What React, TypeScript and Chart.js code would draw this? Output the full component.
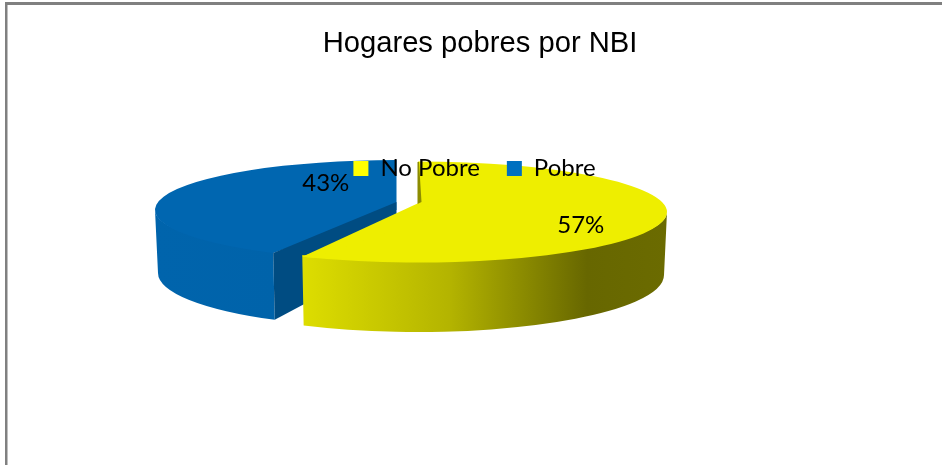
import React, { useEffect, useRef } from "react";
import { Chart, registerables } from "chart.js";

Chart.register(...registerables);

const categories = ["No Pobre", "Pobre"];
const shares = [57, 43];
const titleText = "Hogares pobres por NBI";
const topColors = ["#EEEE00", "#0066B0"];
const legendColors = ["#FFFF00", "#0070C0"];

// Layout of the pseudo-3D projection (Chart.js has no 3D pies): each slice is an
// arc element re-projected onto an ellipse, with a wall drawn below it.
const slices = [
  {
    top: { cx: 418, cy: 212, a: 249, b: 50.5 },
    bottom: { cx: 418, cy: 275, a: 246, b: 57 },
    startDelta: 0,
    endDelta: 2.5,
    labelRadial: 0.67,
    labelShiftY: 6,
    wallStops: [
      [0, "#DDDD00"],
      [0.4, "#B4B400"],
      [0.78, "#676700"],
      [1, "#6B6B00"],
    ],
    wallX: [304, 667],
  },
  {
    top: { cx: 396.5, cy: 210, a: 241.5, b: 50 },
    bottom: { cx: 396.5, cy: 273, a: 238.5, b: 54.5 },
    startDelta: 5.5,
    endDelta: 0,
    labelRadial: 0.3,
    labelShiftY: -23,
    wallStops: [
      [0, "#0064AC"],
      [1, "#0063AA"],
    ],
    wallX: [155, 276],
  },
];

const DEG = Math.PI / 180;

const pointOn = (e: any, t: number) => ({
  x: e.cx + e.a * Math.cos(t),
  y: e.cy + e.b * Math.sin(t),
});

const pie3d = {
  id: "pie3d",
  beforeDraw(chart: any) {
    const ctx = chart.ctx;
    const arcs = chart.getDatasetMeta(0).data;

    // frame
    ctx.fillStyle = "#808080";
    ctx.fillRect(5, 2, 937, 3);
    ctx.fillRect(5, 2, 2.5, 463);

    const drawSlice = (i: number) => {
      const el = arcs[i];
      const s = slices[i];
      const start = el.startAngle + s.startDelta * DEG;
      const end = el.endAngle + s.endDelta * DEG;

      // outer wall, only the part facing the viewer
      const w0 = Math.max(start, 0);
      const w1 = Math.min(end, Math.PI);
      const grad = ctx.createLinearGradient(s.wallX[0], 0, s.wallX[1], 0);
      s.wallStops.forEach(([o, c]: any) => grad.addColorStop(o, c));
      ctx.beginPath();
      ctx.ellipse(s.top.cx, s.top.cy, s.top.a, s.top.b - 2, 0, w0, w1);
      ctx.ellipse(s.bottom.cx, s.bottom.cy, s.bottom.a, s.bottom.b, 0, w1, w0, true);
      ctx.closePath();
      ctx.fillStyle = grad;
      ctx.fill();

      // top face: the library's own arc element
      const [sa, ea] = [el.startAngle, el.endAngle];
      el.startAngle = start;
      el.endAngle = end;
      ctx.save();
      ctx.translate(s.top.cx, s.top.cy);
      ctx.scale(s.top.a / el.outerRadius, s.top.b / el.outerRadius);
      ctx.translate(-el.x, -el.y);
      el.draw(ctx);
      ctx.restore();
      el.startAngle = sa;
      el.endAngle = ea;
    };

    // blue slice first, it sits behind the yellow one
    drawSlice(1);
    {
      const s = slices[1];
      const start = arcs[1].startAngle + s.startDelta * DEG;
      const c0 = pointOn(s.top, start);
      const c1 = pointOn(s.bottom, start);
      ctx.beginPath();
      ctx.moveTo(396.5, 202);
      ctx.lineTo(c0.x, c0.y);
      ctx.lineTo(c1.x, c1.y);
      ctx.lineTo(396.5, 255);
      ctx.closePath();
      ctx.fillStyle = "#004C82";
      ctx.fill();
    }

    drawSlice(0);
    {
      const s = slices[0];
      const end = arcs[0].endAngle + s.endDelta * DEG;
      const c0 = pointOn(s.top, end);
      // apex correction: overlaps into the face so no seam shows
      ctx.beginPath();
      ctx.moveTo(417.5, 203.5);
      ctx.lineTo(c0.x, c0.y);
      ctx.lineTo(c0.x + 12, c0.y + 1);
      ctx.lineTo(s.top.cx + 30, s.top.cy);
      ctx.closePath();
      ctx.fillStyle = topColors[0];
      ctx.fill();
      // sliver of the far cut face
      ctx.beginPath();
      ctx.moveTo(417.5, 162);
      ctx.lineTo(419, 162);
      ctx.lineTo(421.5, 202);
      ctx.lineTo(417.5, 204);
      ctx.closePath();
      ctx.fillStyle = "#8C8C00";
      ctx.fill();
    }

    // percentage labels
    ctx.font = '24px Lato, "Open Sans", sans-serif';
    ctx.fillStyle = "#000000";
    ctx.textAlign = "center";
    ctx.textBaseline = "middle";
    arcs.forEach((el: any, i: number) => {
      const s = slices[i];
      const p = pointOn(s.top, (el.startAngle + el.endAngle) / 2);
      const x = s.top.cx + (p.x - s.top.cx) * s.labelRadial;
      const y = s.top.cy + (p.y - s.top.cy) * s.labelRadial + s.labelShiftY;
      ctx.fillText(`${shares[i]}%`, x, y);
    });
  },
  beforeDatasetsDraw() {
    return false;
  },
  afterLayout(chart: any) {
    if (chart.titleBlock) chart.titleBlock.left += 11;
  },
};

export default function App() {
  const ref = useRef<HTMLCanvasElement | null>(null);
  useEffect(() => {
    const chart = new Chart(ref.current as HTMLCanvasElement, {
      type: "pie",
      data: {
        labels: categories,
        datasets: [{ data: shares, backgroundColor: topColors, borderWidth: 0 }],
      },
      options: {
        responsive: false,
        animation: false,
        layout: { padding: { left: 7, right: 0, top: 0, bottom: 5 } },
        plugins: {
          tooltip: { enabled: false },
          title: {
            display: true,
            text: titleText,
            color: "#000000",
            font: { family: '"Liberation Sans", Arial, sans-serif', size: 29.2, weight: "normal" },
            padding: { top: 26.5, bottom: 68 },
          },
          legend: {
            position: "top",
            labels: {
              color: "#000000",
              font: { family: 'Lato, "Open Sans", sans-serif', size: 24 },
              boxWidth: 15,
              boxHeight: 15,
              padding: 27,
              generateLabels: () =>
                categories.map((text, index) => ({
                  text,
                  index,
                  fillStyle: legendColors[index],
                  strokeStyle: "transparent",
                  lineWidth: 0,
                  hidden: false,
                })),
            },
          },
        },
      },
      plugins: [pie3d],
    } as any);
    return () => chart.destroy();
  }, []);
  return (
    <canvas
      ref={ref}
      width={942}
      height={465}
      style={{ position: "absolute", left: 0, top: 0, width: 942, height: 465, display: "block" }}
    />
  );
}
